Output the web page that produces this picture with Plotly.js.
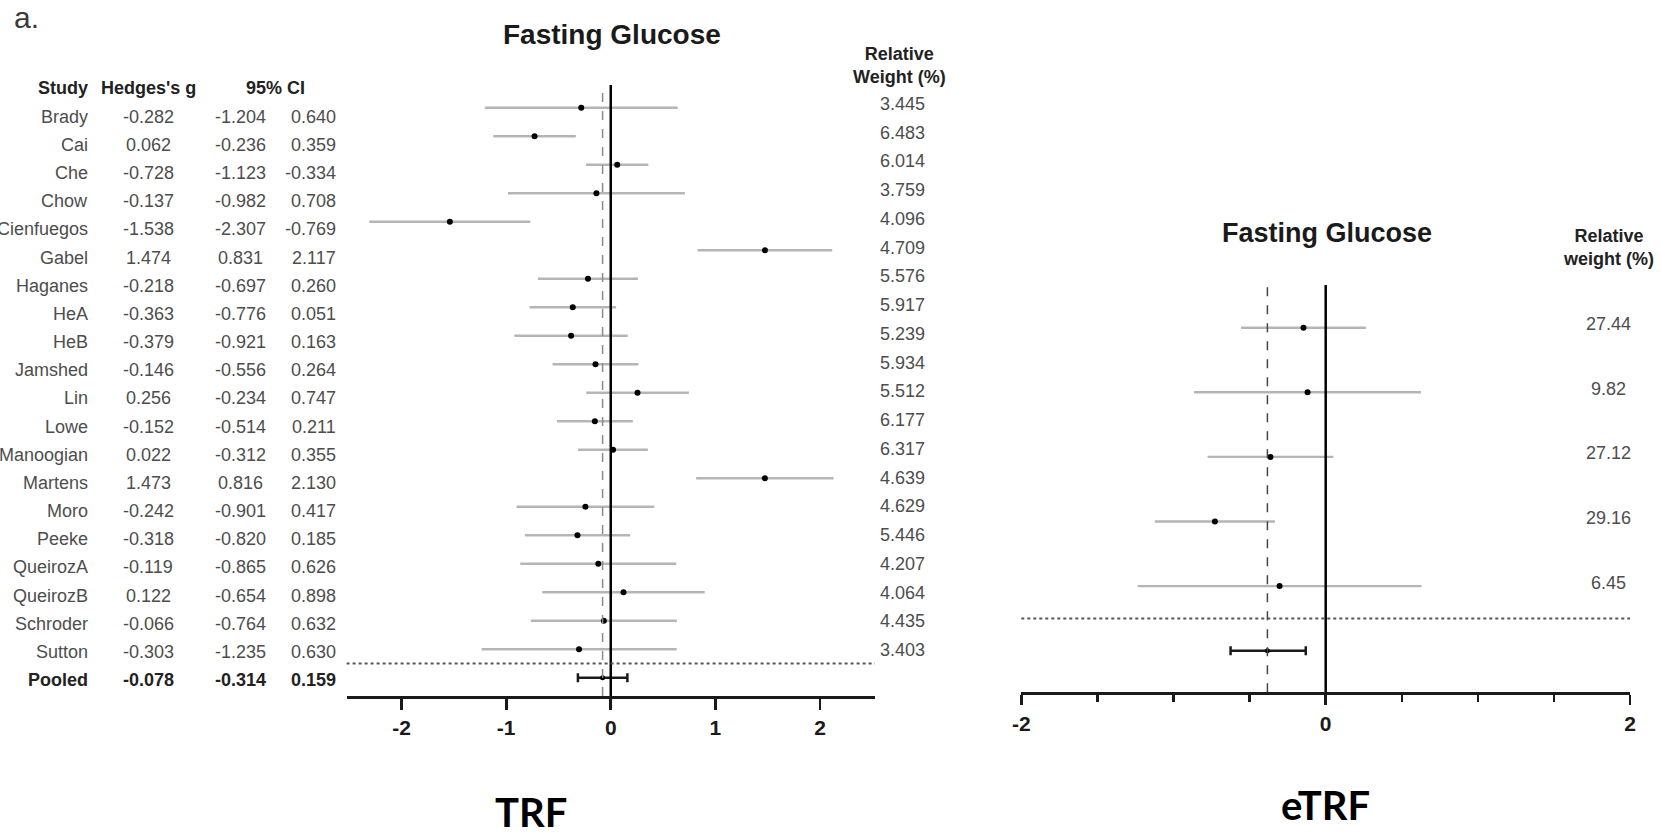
<!DOCTYPE html>
<html>
<head>
<meta charset="utf-8">
<script src="https://cdn.plot.ly/plotly-3.0.1.min.js"></script>
<style>html,body{margin:0;padding:0;background:#fff;overflow:hidden}</style>
</head>
<body>
<div id="chart" style="width:1661px;height:833px"></div>
<script>
// ---------------- DATA : TRF (left panel) ----------------
const studies = ["Brady","Cai","Che","Chow","Cienfuegos","Gabel","Haganes","HeA","HeB","Jamshed",
  "Lin","Lowe","Manoogian","Martens","Moro","Peeke","QueirozA","QueirozB","Schroder","Sutton"];
const hedgesG = [-0.282,0.062,-0.728,-0.137,-1.538,1.474,-0.218,-0.363,-0.379,-0.146,
  0.256,-0.152,0.022,1.473,-0.242,-0.318,-0.119,0.122,-0.066,-0.303];
const ciLower = [-1.204,-0.236,-1.123,-0.982,-2.307,0.831,-0.697,-0.776,-0.921,-0.556,
  -0.234,-0.514,-0.312,0.816,-0.901,-0.820,-0.865,-0.654,-0.764,-1.235];
const ciUpper = [0.640,0.359,-0.334,0.708,-0.769,2.117,0.260,0.051,0.163,0.264,
  0.747,0.211,0.355,2.130,0.417,0.185,0.626,0.898,0.632,0.630];
const relWeight = [3.445,6.483,6.014,3.759,4.096,4.709,5.576,5.917,5.239,5.934,
  5.512,6.177,6.317,4.639,4.629,5.446,4.207,4.064,4.435,3.403];
// plotted row of each study's interval (in the figure the Cai and Che rows are swapped)
const plotRow = [0,2,1,3,4,5,6,7,8,9,10,11,12,13,14,15,16,17,18,19];
const pooledG = -0.078, pooledLower = -0.314, pooledUpper = 0.159;
const trfTicks = [-2,-1,0,1,2];
const trfTickText = ["-2","-1","0","1","2"];

// ---------------- DATA : eTRF (right panel) ----------------
const eG = [-0.146,-0.119,-0.363,-0.728,-0.303];
const eLower = [-0.556,-0.865,-0.776,-1.123,-1.235];
const eUpper = [0.264,0.626,0.051,-0.334,0.630];
const eWeight = [27.44,9.82,27.12,29.16,6.45];
const ePooledG = -0.383, ePooledLower = -0.625, ePooledUpper = -0.131;
const etrfTicks = [-2,0,2];
const etrfTickText = ["-2","0","2"];
const etrfMinor = [-1.5,-1,-0.5,0.5,1,1.5];

// ---------------- LAYOUT HELPERS (pixels -> paper) ----------------
const W = 1661, H = 833;
const px = x => x / W;
const py = y => 1 - y / H;
const TXT = "Liberation Sans, Arial, sans-serif";
const GREY = "#4d4d4d";

const nS = studies.length;

// ---------------- TRACES ----------------
const traces = [];
traces.push({
  type: "scatter", mode: "markers", xaxis: "x", yaxis: "y",
  x: hedgesG, y: plotRow,
  marker: {color: "#000", size: 6},
  error_x: {type: "data", symmetric: false,
    array: hedgesG.map((g, i) => ciUpper[i] - g),
    arrayminus: hedgesG.map((g, i) => g - ciLower[i]),
    color: "#b5b5b5", thickness: 2.4, width: 0},
  hoverinfo: "skip", showlegend: false
});
traces.push({
  type: "scatter", mode: "markers", xaxis: "x", yaxis: "y",
  x: [pooledG], y: [nS],
  marker: {color: "#000", size: 5},
  error_x: {type: "data", symmetric: false,
    array: [pooledUpper - pooledG], arrayminus: [pooledG - pooledLower],
    color: "#1a1a1a", thickness: 2.5, width: 4.5},
  hoverinfo: "skip", showlegend: false
});
const eRows = eG.map((_, i) => i);
traces.push({
  type: "scatter", mode: "markers", xaxis: "x2", yaxis: "y2",
  x: eG, y: eRows,
  marker: {color: "#000", size: 6},
  error_x: {type: "data", symmetric: false,
    array: eG.map((g, i) => eUpper[i] - g),
    arrayminus: eG.map((g, i) => g - eLower[i]),
    color: "#b5b5b5", thickness: 2.4, width: 0},
  hoverinfo: "skip", showlegend: false
});
traces.push({
  type: "scatter", mode: "markers", xaxis: "x2", yaxis: "y2",
  x: [ePooledG], y: [eG.length],
  marker: {color: "#000", size: 5},
  error_x: {type: "data", symmetric: false,
    array: [ePooledUpper - ePooledG], arrayminus: [ePooledG - ePooledLower],
    color: "#1a1a1a", thickness: 2.5, width: 4.5},
  hoverinfo: "skip", showlegend: false
});

// ---------------- SHAPES ----------------
const shapes = [
  {type: "line", xref: "x", yref: "y domain", x0: 0, x1: 0, y0: 0, y1: 1,
   line: {color: "#000", width: 2.5}},
  {type: "line", xref: "x", yref: "y domain", x0: pooledG, x1: pooledG, y0: 0, y1: 1,
   line: {color: "#8a8a8a", width: 1.5, dash: "dash"}},
  {type: "line", xref: "x domain", yref: "y", x0: 0, x1: 1, y0: nS - 0.5, y1: nS - 0.5,
   line: {color: "#555", width: 2, dash: "dot"}},
  {type: "line", xref: "x2", yref: "y2 domain", x0: 0, x1: 0, y0: 0, y1: 1,
   line: {color: "#000", width: 2.5}},
  {type: "line", xref: "x2", yref: "y2 domain", x0: ePooledG, x1: ePooledG, y0: 0, y1: 1.006,
   line: {color: "#444", width: 1.5, dash: "dash"}},
  {type: "line", xref: "x2 domain", yref: "y2", x0: 0, x1: 1, y0: eG.length - 0.5, y1: eG.length - 0.5,
   line: {color: "#555", width: 2, dash: "dot"}}
];

// ---------------- ANNOTATIONS ----------------
const ann = [];
function txt(text, x, y, opts) {
  opts = opts || {};
  ann.push({
    text: text, xref: "paper", yref: "paper", x: px(x), y: py(y),
    xanchor: opts.xa || "center", yanchor: "middle", showarrow: false,
    align: opts.align || "center",
    font: {family: opts.family || TXT, size: opts.size || 18, color: opts.color || GREY,
           weight: opts.bold ? "bold" : "normal"}
  });
}
txt("a.", 12, 17.5, {xa: "left", size: 30, color: "#3a3a3a"});
txt("Fasting Glucose", 611.7, 34.2, {size: 28, bold: true, color: "#1a1a1a"});
txt("Fasting Glucose", 1326.5, 232.5, {size: 27, bold: true, color: "#1a1a1a"});

// table header
const hdrY = 88.3;
txt("Study", 90, hdrY, {xa: "right", bold: true, color: "#222"});
txt("Hedges's g", 148.8, hdrY, {bold: true, color: "#222"});
txt("95% CI", 275, hdrY, {bold: true, color: "#222"});
txt("Relative<br>Weight (%)", 900, 65.3, {bold: true, color: "#222"});

// table rows
const rowY0 = 116.7, rowStep = 28.17;
studies.forEach((s, i) => {
  const y = rowY0 + rowStep * i;
  txt(s, 90, y, {xa: "right"});
  txt(hedgesG[i].toFixed(3), 148, y);
  txt(ciLower[i].toFixed(3), 240.5, y);
  txt(ciUpper[i].toFixed(3), 337.5, y, {xa: "right"});
});
{
  const y = rowY0 + rowStep * nS;
  txt("Pooled", 90, y, {xa: "right", bold: true, color: "#222"});
  txt(pooledG.toFixed(3), 148, y, {bold: true, color: "#222"});
  txt(pooledLower.toFixed(3), 240.5, y, {bold: true, color: "#222"});
  txt(pooledUpper.toFixed(3), 337.5, y, {xa: "right", bold: true, color: "#222"});
}
// weights left
relWeight.forEach((w, i) => txt(w.toFixed(3), 903, 104 + 28.74 * i));

// right header and weights
txt("Relative<br>weight (%)", 1608.4, 248, {bold: true, color: "#222"});
eWeight.forEach((w, i) => txt(w.toFixed(2), 1608.4, 324.2 + 64.6 * i));

// panel labels
txt("TRF", 531, 812, {size: 40, bold: true, color: "#000", family: "Lato, sans-serif"});
txt("eTRF", 1325.6, 805, {size: 40, bold: true, color: "#000", family: "Lato, sans-serif"});

// ---------------- AXES ----------------
const tickFont = {family: TXT, size: 21, color: "#1a1a1a", weight: "bold"};
const layout = {
  width: W, height: H,
  margin: {l: 0, r: 0, t: 0, b: 0, pad: 0},
  paper_bgcolor: "#fff", plot_bgcolor: "rgba(0,0,0,0)",
  showlegend: false,
  xaxis: {
    domain: [px(346.6), px(874.9)], range: [-2.525, 2.525], anchor: "y",
    showgrid: false, zeroline: false, showline: true, linecolor: "#1a1a1a", linewidth: 3,
    ticks: "outside", ticklen: 11, tickwidth: 2.8, tickcolor: "#1a1a1a",
    tickmode: "array", tickvals: trfTicks, ticktext: trfTickText, tickfont: tickFont,
    fixedrange: true
  },
  yaxis: {
    domain: [py(696), py(85)], range: [20.64, -0.8], anchor: "x",
    visible: false, showgrid: false, zeroline: false, fixedrange: true
  },
  xaxis2: {
    domain: [px(1021.3), px(1630.1)], range: [-2, 2], anchor: "y2",
    showgrid: false, zeroline: false, showline: true, linecolor: "#1a1a1a", linewidth: 3,
    ticks: "outside", ticklen: 10, tickwidth: 2.5, tickcolor: "#1a1a1a",
    tickmode: "array", tickvals: etrfTicks, ticktext: etrfTickText, tickfont: tickFont,
    minor: {tickmode: "array", tickvals: etrfMinor, ticks: "outside", ticklen: 7,
            tickwidth: 2.5, tickcolor: "#1a1a1a", showgrid: false},
    fixedrange: true
  },
  yaxis2: {
    domain: [py(692.3), py(285)], range: [5.644, -0.661], anchor: "x2",
    visible: false, showgrid: false, zeroline: false, fixedrange: true
  },
  shapes: shapes,
  annotations: ann
};

Plotly.newPlot("chart", traces, layout, {displayModeBar: false, staticPlot: true});
</script>
</body>
</html>
